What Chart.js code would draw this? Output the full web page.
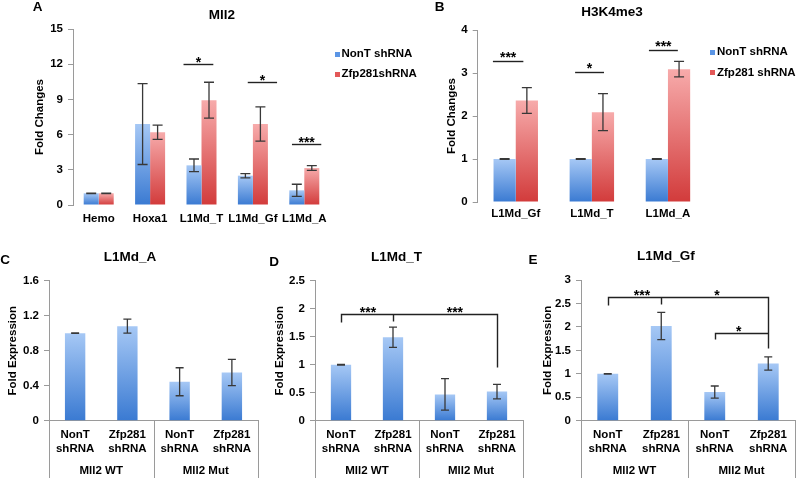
<!DOCTYPE html>
<html><head><meta charset="utf-8">
<script src="https://cdn.jsdelivr.net/npm/chart.js@4.4.1/dist/chart.umd.min.js"></script>
<style>
html,body{margin:0;padding:0;background:#fff;}
#wrap{position:relative;width:796px;height:478px;overflow:hidden;background:#fff;font-family:'Liberation Sans',Arial,sans-serif;font-weight:bold;color:#000;}
canvas{position:absolute;}
.t{position:absolute;transform:translate(-50%,-50%);line-height:1;white-space:nowrap;font-size:13.5px;}
.lt{position:absolute;transform:translateY(-50%);line-height:1;white-space:nowrap;font-size:11.5px;}
.sq{position:absolute;width:5px;height:5px;}
</style>
</head><body>
<div id="wrap">
  <canvas id="cA" width="400" height="240" style="left:0;top:0"></canvas>
  <canvas id="cB" width="396" height="240" style="left:400px;top:0"></canvas>
  <canvas id="cC" width="265" height="238" style="left:0;top:240px"></canvas>
  <canvas id="cD" width="265" height="238" style="left:265px;top:240px"></canvas>
  <canvas id="cE" width="266" height="238" style="left:530px;top:240px"></canvas>

  <div class="t" style="left:37.5px;top:6.5px">A</div>
  <div class="t" style="left:439.5px;top:7px">B</div>
  <div class="t" style="left:5px;top:260px">C</div>
  <div class="t" style="left:274px;top:262px">D</div>
  <div class="t" style="left:533px;top:260px">E</div>

  <div class="t" id="tA" style="left:222px;top:14.5px"></div>
  <div class="t" id="tB" style="left:612px;top:12px"></div>
  <div class="t" id="tC" style="left:130px;top:257px"></div>
  <div class="t" id="tD" style="left:396.5px;top:257px"></div>
  <div class="t" id="tE" style="left:666px;top:256px"></div>

  <div class="sq" style="left:335px;top:51.5px;background:#5b95e5"></div>
  <div class="lt" id="lA0" style="left:341.5px;top:54px"></div>
  <div class="sq" style="left:335px;top:71.5px;background:#e35858"></div>
  <div class="lt" id="lA1" style="left:341.5px;top:74px"></div>
  <div class="sq" style="left:710px;top:49.5px;background:#5b95e5"></div>
  <div class="lt" id="lB0" style="left:717px;top:52px"></div>
  <div class="sq" style="left:710px;top:70px;background:#e35858"></div>
  <div class="lt" id="lB1" style="left:717px;top:72.5px"></div>
</div>
<script>
// ---------- DATA ----------
const titleA = 'Mll2';
const catsA = ['Hemo', 'Hoxa1', 'L1Md_T', 'L1Md_Gf', 'L1Md_A'];
const seriesA = ['NonT shRNA', 'Zfp281shRNA'];
const nonTA = [1.0, 6.9, 3.38, 2.5, 1.25];
const nonTAErr = [0.02, 3.45, 0.54, 0.18, 0.52];
const zfpA = [1.0, 6.2, 8.93, 6.9, 3.15];
const zfpAErr = [0.02, 0.6, 1.53, 1.46, 0.2];
const sigA = [
  {cat: 2, y: 12.0, x0: -0.35, x1: 0.23, text: '*'},
  {cat: 3, y: 10.5, x0: -0.1, x1: 0.47, text: '*'},
  {cat: 4, y: 5.2, x0: -0.24, x1: 0.33, text: '***'}
];

const titleB = 'H3K4me3';
const catsB = ['L1Md_Gf', 'L1Md_T', 'L1Md_A'];
const seriesB = ['NonT shRNA', 'Zfp281 shRNA'];
const nonTB = [1.0, 1.0, 1.0];
const nonTBErr = [0.01, 0.01, 0.01];
const zfpB = [2.36, 2.09, 3.09];
const zfpBErr = [0.3, 0.43, 0.18];
const sigB = [
  {cat: 0, y: 3.29, x0: -0.30, x1: 0.10, text: '***'},
  {cat: 1, y: 3.03, x0: -0.22, x1: 0.16, text: '*'},
  {cat: 2, y: 3.53, x0: -0.25, x1: 0.13, text: '***'}
];

const catsCDE = [['NonT', 'shRNA'], ['Zfp281', 'shRNA'], ['NonT', 'shRNA'], ['Zfp281', 'shRNA']];
const groupsCDE = ['Mll2 WT', 'Mll2 Mut'];

const titleC = 'L1Md_A';
const valsC = [1.0, 1.08, 0.445, 0.55];
const errsC = [0.003, 0.08, 0.16, 0.15];

const titleD = 'L1Md_T';
const valsD = [1.0, 1.49, 0.47, 0.52];
const errsD = [0.005, 0.18, 0.28, 0.13];
const bracketsD = [[[0, 1.77], [0, 1.905], [3, 1.905], [3, 0.96]], [[1, 1.905], [1, 1.78]]];
const starsD = [{x: 0.52, y: 1.905, text: '***'}, {x: 2.19, y: 1.905, text: '***'}];

const titleE = 'L1Md_Gf';
const valsE = [1.0, 2.02, 0.61, 1.22];
const errsE = [0.005, 0.29, 0.13, 0.14];
const bracketsE = [[[0, 2.46], [0, 2.63], [3, 2.63], [3, 1.55]], [[1, 2.63], [1, 2.48]], [[2, 1.74], [2, 1.87], [3, 1.87]]];
const starsE = [{x: 0.64, y: 2.63, text: '***'}, {x: 2.04, y: 2.63, text: '*'}, {x: 2.45, y: 1.87, text: '*'}];

// ---------- STYLE ----------
const FONT = "'Liberation Sans', Arial, sans-serif";
const BLUE = ['#a6c8f5', '#3a7ad2'];
const RED = ['#f7abab', '#d23b3b'];
const AXIS = '#9a9a9a';
Chart.defaults.font.family = FONT;
Chart.defaults.font.weight = 'bold';
Chart.defaults.font.size = 11.5;
Chart.defaults.color = '#000';

document.getElementById('tA').textContent = titleA;
document.getElementById('tB').textContent = titleB;
document.getElementById('tC').textContent = titleC;
document.getElementById('tD').textContent = titleD;
document.getElementById('tE').textContent = titleE;
document.getElementById('lA0').textContent = seriesA[0];
document.getElementById('lA1').textContent = seriesA[1];
document.getElementById('lB0').textContent = seriesB[0];
document.getElementById('lB1').textContent = seriesB[1];

function grad(cols) {
  return (ctx) => {
    const c = ctx.chart;
    if (!c.chartArea || ctx.raw === undefined) return cols[1];
    const y = c.scales.y;
    const y0 = y.getPixelForValue(0), y1 = y.getPixelForValue(ctx.raw);
    if (!isFinite(y1) || y1 === y0) return cols[1];
    const g = c.ctx.createLinearGradient(0, y1, 0, y0);
    g.addColorStop(0, cols[0]);
    g.addColorStop(1, cols[1]);
    return g;
  };
}

const errorBars = {
  id: 'errorBars',
  afterDatasetsDraw(chart, args, o) {
    const {ctx} = chart, y = chart.scales.y;
    ctx.save();
    ctx.strokeStyle = '#383838';
    ctx.lineWidth = 1.3;
    chart.data.datasets.forEach((ds, di) => {
      if (!ds.errors) return;
      chart.getDatasetMeta(di).data.forEach((el, i) => {
        const v = ds.data[i], e = ds.errors[i];
        const yt = y.getPixelForValue(v + e), yb = y.getPixelForValue(v - e), x = el.x;
        ctx.beginPath();
        ctx.moveTo(x, yt); ctx.lineTo(x, yb);
        ctx.moveTo(x - o.cap, yt); ctx.lineTo(x + o.cap, yt);
        ctx.moveTo(x - o.cap, yb); ctx.lineTo(x + o.cap, yb);
        ctx.stroke();
      });
    });
    ctx.restore();
  }
};

const sigMarks = {
  id: 'sigMarks',
  afterDraw(chart, args, o) {
    const {ctx} = chart, x = chart.scales.x, y = chart.scales.y;
    ctx.save();
    ctx.strokeStyle = '#222';
    ctx.lineWidth = 1.4;
    ctx.fillStyle = '#000';
    ctx.font = 'bold 14px ' + FONT;
    ctx.textAlign = 'center';
    ctx.textBaseline = 'alphabetic';
    (o.lines || []).forEach(s => {
      const xa = x.getPixelForValue(s.cat + s.x0), xb = x.getPixelForValue(s.cat + s.x1);
      const yp = Math.round(y.getPixelForValue(s.y)) + 0.5;
      ctx.beginPath(); ctx.moveTo(xa, yp); ctx.lineTo(xb, yp); ctx.stroke();
      ctx.fillText(s.text, (xa + xb) / 2, yp + o.dy);
    });
    (o.paths || []).forEach(p => {
      ctx.beginPath();
      p.forEach((pt, i) => {
        const px = Math.round(x.getPixelForValue(pt[0])) + 0.5, py = Math.round(y.getPixelForValue(pt[1])) + 0.5;
        if (i === 0) ctx.moveTo(px, py); else ctx.lineTo(px, py);
      });
      ctx.stroke();
    });
    (o.stars || []).forEach(s => {
      ctx.fillText(s.text, x.getPixelForValue(s.x), y.getPixelForValue(s.y) + o.dy);
    });
    ctx.restore();
  }
};

const groupAxis = {
  id: 'groupAxis',
  afterDraw(chart, args, o) {
    if (!o.labels) return;
    const {ctx, chartArea} = chart, x = chart.scales.x;
    const n = o.labels.length, per = chart.data.labels.length / n;
    ctx.save();
    ctx.strokeStyle = AXIS;
    ctx.lineWidth = 1;
    for (let g = 0; g <= n; g++) {
      const xp = Math.round(x.getPixelForValue(g * per - 0.5)) + 0.5;
      ctx.beginPath(); ctx.moveTo(xp, chartArea.bottom); ctx.lineTo(xp, chart.height); ctx.stroke();
    }
    ctx.fillStyle = '#000';
    ctx.font = 'bold 11.5px ' + FONT;
    ctx.textAlign = 'center';
    ctx.textBaseline = 'middle';
    o.labels.forEach((lab, g) => {
      ctx.fillText(lab, x.getPixelForValue(g * per + (per - 1) / 2), chartArea.bottom + o.offset);
    });
    ctx.restore();
  }
};

const fmt = v => String(Number(Number(v).toFixed(3)));

function yAxis(max, step, title, width, titlePad) {
  return {
    min: 0, max: max,
    ticks: {stepSize: step, padding: 5, font: {size: 11.5}, callback: fmt},
    grid: {drawOnChartArea: false, drawTicks: true, tickLength: 5, color: AXIS},
    border: {color: AXIS, width: 1},
    title: {display: true, text: title, padding: {top: titlePad, bottom: 0}, font: {size: 11.5}},
    afterFit: s => { s.width = width; }
  };
}

function groupedChart(id, cats, series, a, aErr, b, bErr, yOpts, pad, xH, xPad, sig, dy) {
  return new Chart(document.getElementById(id), {
    type: 'bar',
    data: {
      labels: cats,
      datasets: [
        {label: series[0], data: a, errors: aErr, backgroundColor: grad(BLUE), categoryPercentage: 0.584, barPercentage: 1},
        {label: series[1], data: b, errors: bErr, backgroundColor: grad(RED), categoryPercentage: 0.584, barPercentage: 1}
      ]
    },
    options: {
      responsive: false, animation: false,
      layout: {padding: pad},
      plugins: {legend: {display: false}, tooltip: {enabled: false},
        errorBars: {cap: 5}, sigMarks: {lines: sig, dy: dy}},
      scales: {
        x: {grid: {display: false, drawTicks: false}, border: {display: false},
            ticks: {padding: xPad, maxRotation: 0, autoSkip: false, font: {size: 11.5}},
            afterFit: s => { s.height = xH; }},
        y: yOpts
      }
    },
    plugins: [errorBars, sigMarks]
  });
}

function singleChart(id, vals, errs, yOpts, pad, paths, stars) {
  return new Chart(document.getElementById(id), {
    type: 'bar',
    data: {
      labels: catsCDE,
      datasets: [{data: vals, errors: errs, backgroundColor: grad(BLUE), categoryPercentage: 1, barPercentage: 0.39}]
    },
    options: {
      responsive: false, animation: false,
      layout: {padding: pad},
      plugins: {legend: {display: false}, tooltip: {enabled: false},
        errorBars: {cap: 4}, sigMarks: {paths: paths, stars: stars, dy: 3},
        groupAxis: {labels: groupsCDE, offset: 50.5}},
      scales: {
        x: {grid: {display: false, drawTicks: false}, border: {display: true, color: AXIS, width: 1},
            ticks: {padding: 7, maxRotation: 0, autoSkip: false, font: {size: 11.5, lineHeight: 1.22}},
            afterFit: s => { s.height = 57.3; }},
        y: yOpts
      }
    },
    plugins: [errorBars, sigMarks, groupAxis]
  });
}

groupedChart('cA', catsA, seriesA, nonTA, nonTAErr, zfpA, zfpAErr,
  yAxis(15, 3, 'Fold Changes', 73, 33), {left: 0, right: 70, top: 29, bottom: 0}, 35, 7.4, sigA, 2);
groupedChart('cB', catsB, seriesB, nonTB, nonTBErr, zfpB, zfpBErr,
  yAxis(4, 1, 'Fold Changes', 77.7, 45), {left: 0, right: 90, top: 30, bottom: 0}, 38, 5, sigB, 0);
singleChart('cC', valsC, errsC, yAxis(1.6, 0.4, 'Fold Expression', 49, 6),
  {left: 0, right: 7, top: 40.7, bottom: 0}, [], []);
singleChart('cD', valsD, errsD, yAxis(2.5, 0.5, 'Fold Expression', 50, 8),
  {left: 0, right: 7, top: 40.7, bottom: 0}, bracketsD, starsD);
singleChart('cE', valsE, errsE, yAxis(3, 0.5, 'Fold Expression', 51, 11),
  {left: 0, right: 1, top: 40, bottom: 0}, bracketsE, starsE);
</script>
</body></html>
